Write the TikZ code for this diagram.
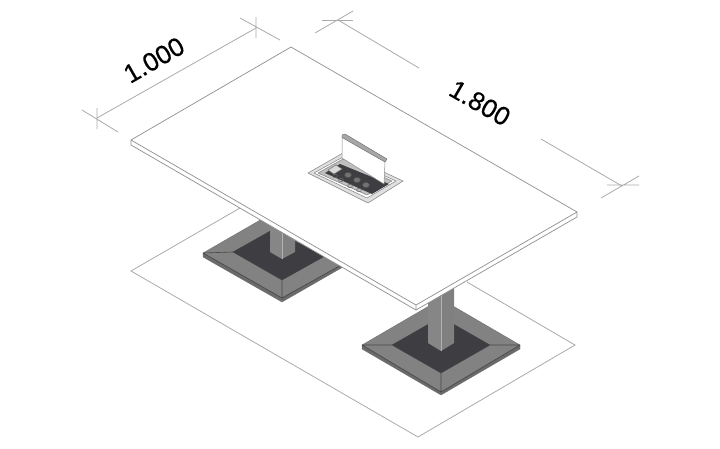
\documentclass[tikz,border=0pt]{standalone}
\usepackage{fontspec}
\setmainfont{Liberation Sans}
\newfontfamily\dimfont[FakeBold=0.4]{Liberation Sans}
\definecolor{dimc}{HTML}{ABABAB}
\definecolor{edgec}{HTML}{8F8F8F}
\definecolor{bandc}{HTML}{828282}
\definecolor{sidec}{HTML}{6A6A6A}
\definecolor{darkc}{HTML}{3E3D42}
\definecolor{postl}{HTML}{868686}
\definecolor{postr}{HTML}{808080}
\tikzset{
  dimline/.style={draw=dimc,line width=0.8pt},
  tabletop/.style={draw=edgec,line width=0.7pt,fill=white,line join=round},
  band/.style={fill=bandc,draw=sidec,line width=0.3pt,line join=round},
  side/.style={fill=sidec,draw=sidec,line width=0.3pt,line join=round},
  dark/.style={fill=darkc,draw=darkc,line width=0.3pt},
  mitre/.style={draw=black!72,line width=0.6pt},
  dimlabel/.style={font=\dimfont\fontsize{26}{26}\selectfont,inner sep=0pt,text=black},
  frame/.style={draw=black!50,line width=0.5pt,fill=black!12,line join=round}
}
\begin{document}
\begin{tikzpicture}[x=1pt,y=-1pt]
\useasboundingbox (0,0) rectangle (720,448);
\fill[white] (0,0) rectangle (720,448);
% floor outline
\coordinate (fl) at (131,271);
\coordinate (fb) at (418,437);
\coordinate (fr) at (575,345);
\coordinate (ft) at (240,208);
\coordinate (fs) at (467,282);
\draw[dimline,line join=miter] (ft) -- (fl) -- (fb) -- (fr) -- (fs);
% base 1
\draw[side] (203,253) -- (282,298) -- (343,263) -- (343,267) -- (282,302) -- (203,257) -- cycle;
\draw[band] (203,253) -- (262,219) -- (343,264) -- (282,298) -- cycle;
\draw[dark] (233,252) -- (272,230) -- (325,256) -- (282,280) -- cycle;
\draw[mitre] (203,253) -- (233,252) (282,298) -- (282,280) (343,264) -- (325,256) (203,253) -- (282,298) -- (343,264);
\fill[postl] (270,220) -- (282,220) -- (282,259) -- (270,252) -- cycle;
\fill[postr] (282,220) -- (295,220) -- (295,252) -- (282,259) -- cycle;
\draw[black!30,line width=0.3pt] (282,222) -- (282,259);
% base 2
\draw[side] (362,345) -- (441,392) -- (520,345) -- (520,349) -- (441,395) -- (362,349) -- cycle;
\draw[band] (362,345) -- (441,299) -- (520,345) -- (441,392) -- cycle;
\draw[dark] (392,345) -- (441,317) -- (490,345) -- (441,373) -- cycle;
\draw[mitre] (362,345) -- (392,345) (441,392) -- (441,373) (520,345) -- (490,345) (362,345) -- (441,392) -- (520,345);
\fill[postl] (428,295) -- (441,295) -- (441,351) -- (428,343) -- cycle;
\fill[postr] (441,285) -- (454,285) -- (454,343) -- (441,351) -- cycle;
\draw[black!30,line width=0.3pt] (441,296) -- (441,351);
% table top
\coordinate (tt) at (291,47);
\coordinate (tl) at (131,140);
\coordinate (tb) at (416,305);
\coordinate (tr) at (577,212);
\draw[tabletop] (tl) -- (tt) -- (tr) -- ++(0,5) -- (416,310) -- (131,145) -- cycle;
\draw[tabletop,fill=none] (tl) -- (tb) -- (tr) (tb) -- (416,310);
% grommet
\draw[frame] (308,173) -- (343,153) -- (403,181) -- (368,203) -- cycle;
\draw[frame,fill=white] (314,173) -- (343,157) -- (396,181) -- (367,198) -- cycle;
\draw[frame,fill=black!25] (318,173) -- (343,159) -- (392,181) -- (367,195) -- cycle;
\fill[darkc] (325,173) -- (340,164) -- (389,184) -- (372,194) -- cycle;
\foreach \cx/\cy in {348/175,357/180,366/185}{
  \draw[black!70,line width=0.7pt,fill=black!55] (\cx,\cy) ellipse (3.6 and 2.8);
}
\foreach \cx/\cy in {335/176,341/180,350/186,359/190}{
  \draw[black!60,line width=0.5pt] (\cx,\cy) ellipse (2.4 and 1.7);
}
\draw[black!55,line width=0.5pt,fill=black!15] (328,170) -- (336,165) -- (342,169) -- (334,174) -- cycle;
\fill[white] (342,137) -- (385,162) -- (384,184) -- (342,158) -- cycle;
\draw[black!45,line width=0.5pt] (342,137) -- (342,158) -- (384,184) -- (385,162);
\draw[black!60,fill=black!35,line width=0.4pt,line join=round] (342,135) -- (345,134) -- (387,159) -- (385,162) -- (342,137.5) -- cycle;
% dimensions
\coordinate (da) at (97,118);
\coordinate (db) at (256,28);
\draw[dimline] (da) -- (db);
\draw[dimline] (82,110) -- (118,132) (97,108) -- (97,129);
\draw[dimline] (240,18) -- (280,40) (256,17) -- (256,38);
\coordinate (dc) at (338,20);
\coordinate (dd) at (419,68);
\coordinate (de) at (541,139);
\coordinate (df) at (622,186);
\draw[dimline] (dc) -- (dd) (de) -- (df);
\draw[dimline] (322,20) -- (353,20);
\draw[dimline] (315,33) -- (353,11);
\draw[dimline] (607,185) -- (639,185) (601,198) -- (639,176);
\node[dimlabel,rotate=30] (labela) at (154,60) {1.000};
\node[dimlabel,rotate=-30] (labelb) at (480,103) {1.800};
\end{tikzpicture}
\end{document}
